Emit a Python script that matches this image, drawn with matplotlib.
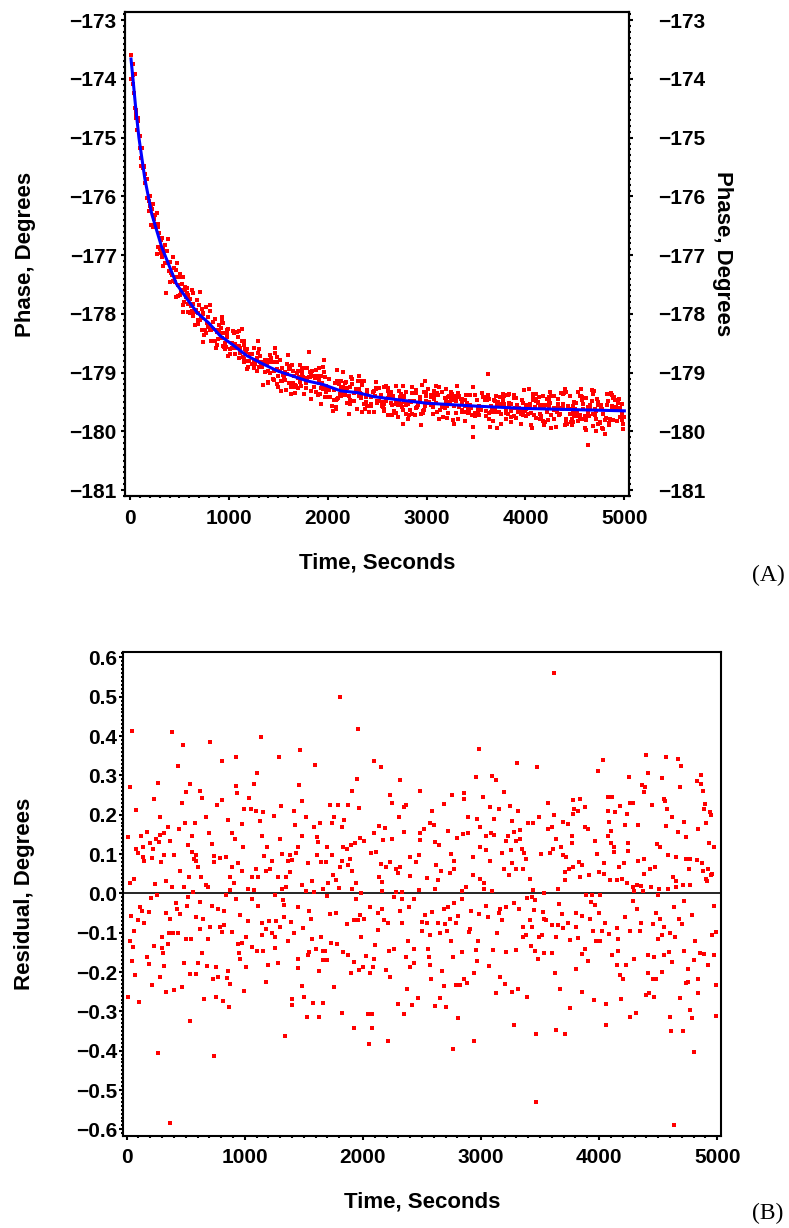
import numpy as np
import matplotlib
matplotlib.use("Agg")
import matplotlib.pyplot as plt
from matplotlib.ticker import MultipleLocator

plt.rcParams["font.family"] = ["Liberation Sans", "DejaVu Sans"]
plt.rcParams["font.weight"] = "bold"
plt.rcParams["axes.labelweight"] = "bold"

# ---------------- DATA ----------------

# fitted decay curve (blue line)
fit_time = [10, 30, 55, 90, 150, 220, 320, 470, 570, 680, 800, 910, 1050, 1180,
            1330, 1490, 1650, 1790, 1950, 2130, 2300, 2470, 2750, 3000, 3500,
            4000, 4500, 5000]
fit_phase = [-173.66, -174.0, -174.45, -175.0, -175.7, -176.3, -176.86, -177.49,
             -177.73, -177.98, -178.16, -178.37, -178.54, -178.71, -178.84,
             -178.97, -179.06, -179.14, -179.2, -179.31, -179.34, -179.41,
             -179.47, -179.52, -179.57, -179.61, -179.63, -179.65]

# residuals (time s, residual deg)
resid_early = [
    (48, 0.414), (387, 0.411), (705, 0.386), (1137, 0.398), (480, 0.377), (810, 0.337),
    (928, 0.347), (1292, 0.347), (1470, 0.365), (437, 0.324), (1597, 0.326), (1100, 0.307),
    (31, 0.271), (268, 0.281), (539, 0.278), (928, 0.274), (1081, 0.278), (1462, 0.276),
    (505, 0.258), (624, 0.26), (937, 0.256), (638, 0.243), (1038, 0.243), (231, 0.241),
    (468, 0.231), (1484, 0.235), (768, 0.225), (810, 0.237), (993, 0.214), (1053, 0.214),
    (1095, 0.21), (1151, 0.206), (82, 0.212), (1304, 0.221), (1417, 0.209), (285, 0.195),
    (674, 0.195), (1250, 0.197), (1518, 0.195), (858, 0.186), (1129, 0.185), (979, 0.177),
    (497, 0.179), (576, 0.179), (1425, 0.175), (1589, 0.169), (1637, 0.18), (353, 0.169),
    (446, 0.164), (895, 0.154), (700, 0.154), (1148, 0.147), (1487, 0.147), (1611, 0.144),
    (14, 0.144), (118, 0.147), (169, 0.157), (248, 0.138), (285, 0.148), (319, 0.154),
    (556, 0.147), (917, 0.138), (1298, 0.139), (370, 0.133), (200, 0.129), (274, 0.13),
    (725, 0.126), (1620, 0.131), (522, 0.124), (985, 0.117), (1185, 0.119), (1453, 0.119),
    (79, 0.112), (141, 0.118), (96, 0.103), (226, 0.113), (553, 0.104), (316, 0.097),
    (404, 0.097), (590, 0.097), (742, 0.095), (841, 0.093), (1165, 0.095), (1383, 0.098),
    (1436, 0.102), (1611, 0.098), (1312, 0.1), (141, 0.093), (217, 0.091), (573, 0.087),
    (793, 0.091), (150, 0.081), (291, 0.08), (590, 0.082), (742, 0.08), (940, 0.078),
    (1233, 0.081), (1369, 0.083), (1400, 0.084), (1648, 0.079), (1535, 0.078), (607, 0.067),
    (895, 0.067), (1098, 0.063), (1213, 0.063), (454, 0.057), (979, 0.057), (1177, 0.057),
    (1383, 0.054), (531, 0.042), (632, 0.042), (878, 0.042), (1061, 0.042), (1115, 0.042),
    (1281, 0.042), (1349, 0.042), (62, 0.037), (336, 0.032), (1572, 0.032), (911, 0.026),
    (28, 0.027), (240, 0.023), (485, 0.017), (387, 0.017), (672, 0.021), (691, 0.016),
    (1482, 0.022), (1352, 0.017), (1315, 0.012), (1027, 0.012), (1081, 0.008), (878, 0.009),
    (1518, 0.007), (1589, 0.003), (1659, 0.01), (562, 0.003),
    (254, -0.004), (203, -0.011), (522, -0.008), (844, -0.005), (928, -0.014), (1064, -0.014),
    (1256, -0.005), (1326, -0.016), (621, -0.021), (418, -0.025), (116, -0.034), (513, -0.031),
    (720, -0.031), (1115, -0.032), (1335, -0.03), (1453, -0.034), (423, -0.04), (776, -0.039),
    (189, -0.047), (130, -0.045), (824, -0.045), (336, -0.049), (451, -0.053), (962, -0.055),
    (1546, -0.044), (370, -0.064), (587, -0.059), (649, -0.064), (1030, -0.07), (1143, -0.075),
    (1202, -0.07), (1264, -0.07), (1332, -0.059), (1557, -0.064), (99, -0.068), (150, -0.075),
    (40, -0.057), (62, -0.096), (821, -0.08), (787, -0.085), (706, -0.085), (624, -0.09),
    (1301, -0.086), (1180, -0.09), (1394, -0.073), (435, -0.1), (361, -0.1), (395, -0.101),
    (807, -0.097), (889, -0.098), (1233, -0.1), (1148, -0.105), (1420, -0.1), (1496, -0.087),
    (299, -0.11), (502, -0.115), (547, -0.115), (689, -0.115), (1010, -0.11), (1258, -0.11),
    (1648, -0.11), (1569, -0.115), (28, -0.12), (973, -0.125), (945, -0.129), (1366, -0.12),
    (353, -0.13), (234, -0.135), (302, -0.138), (1061, -0.136), (1100, -0.147), (1256, -0.14),
    (1603, -0.141), (1541, -0.148), (56, -0.136), (310, -0.151), (638, -0.151), (950, -0.151),
    (1154, -0.147), (1450, -0.166), (169, -0.161), (1532, -0.156), (1665, -0.147), (48, -0.172),
    (192, -0.18), (319, -0.184), (485, -0.176), (604, -0.176), (683, -0.184), (756, -0.186),
    (962, -0.166), (1010, -0.186), (1196, -0.181), (1281, -0.176), (1665, -0.169), (858, -0.197),
    (1453, -0.189), (68, -0.208), (536, -0.205), (584, -0.204), (773, -0.212), (847, -0.214),
    (282, -0.213), (728, -0.217), (1631, -0.197), (1182, -0.225), (214, -0.232), (875, -0.23),
    (468, -0.238), (404, -0.246), (336, -0.25), (993, -0.247), (1484, -0.235), (14, -0.264),
    (107, -0.275), (655, -0.269), (753, -0.264), (818, -0.273), (869, -0.289), (1400, -0.268),
    (1397, -0.283), (1501, -0.264), (1577, -0.278), (1665, -0.278), (1527, -0.314),
    (1625, -0.314), (536, -0.324), (1343, -0.363), (268, -0.406), (742, -0.413), (367, -0.584),
]

resid_middle = [
    (1806, 0.5), (1962, 0.418), (2983, 0.367), (2094, 0.337), (2153, 0.322), (3308, 0.332),
    (1950, 0.292), (2317, 0.289), (2955, 0.297), (3096, 0.298), (3130, 0.289), (1911, 0.261),
    (2232, 0.249), (2486, 0.26), (2757, 0.249), (2856, 0.255), (2856, 0.24), (3017, 0.245),
    (3198, 0.258), (1722, 0.225), (1792, 0.225), (1877, 0.225), (1964, 0.218), (2249, 0.23),
    (2365, 0.225), (2348, 0.219), (2690, 0.228), (3079, 0.22), (3152, 0.214), (3248, 0.223),
    (3313, 0.209), (2585, 0.21), (2303, 0.195), (1753, 0.195), (2893, 0.195), (2969, 0.19),
    (3110, 0.19), (1840, 0.186), (1741, 0.178), (1820, 0.169), (2568, 0.18), (2605, 0.174),
    (3260, 0.183), (2139, 0.172), (2187, 0.166), (2520, 0.164), (2723, 0.159), (2991, 0.169),
    (3330, 0.16), (2097, 0.153), (2351, 0.155), (2484, 0.153), (2893, 0.153), (2850, 0.15),
    (3045, 0.147), (3082, 0.153), (3113, 0.148), (3282, 0.155), (3231, 0.145), (1976, 0.14),
    (2009, 0.134), (2173, 0.136), (2249, 0.138), (2486, 0.136), (2794, 0.142), (3330, 0.139),
    (3212, 0.133), (3296, 0.132), (2611, 0.13), (2644, 0.123), (1930, 0.129), (1899, 0.124),
    (1835, 0.119), (1863, 0.114), (1699, 0.119), (2989, 0.119), (3045, 0.11), (3251, 0.11),
    (3347, 0.114), (2069, 0.102), (2111, 0.104), (2743, 0.099), (2472, 0.098), (3181, 0.103),
    (3361, 0.102), (1741, 0.098), (2402, 0.093), (2935, 0.093), (1891, 0.087), (1685, 0.079),
    (1820, 0.081), (2227, 0.079), (2453, 0.079), (2771, 0.081), (3260, 0.078), (3076, 0.082),
    (2153, 0.075), (2193, 0.067), (1806, 0.068), (1874, 0.072), (2314, 0.068), (2283, 0.062),
    (2622, 0.071), (2774, 0.062), (3198, 0.063), (3293, 0.062), (3353, 0.062), (1908, 0.058),
    (2295, 0.053), (2402, 0.045), (2661, 0.057), (2735, 0.053), (2932, 0.047), (3237, 0.046),
    (1750, 0.047), (2134, 0.042), (2540, 0.038), (2639, 0.033), (2991, 0.036), (3028, 0.026),
    (1772, 0.034), (1708, 0.026), (1942, 0.027), (2159, 0.03), (2873, 0.016), (1911, 0.012),
    (1795, 0.014), (2162, 0.007), (2283, 0.003), (2328, 0.003), (2611, 0.012), (2836, 0.007),
    (3025, 0.012), (3096, 0.007), (2478, 0.008), (1987, 0.002),
    (1699, -0.007), (1942, -0.014), (2266, -0.008), (2334, -0.014), (2436, -0.014),
    (2839, -0.014), (2774, -0.024), (3042, -0.032), (3277, -0.024), (2060, -0.034),
    (2159, -0.039), (2388, -0.034), (2687, -0.039), (2723, -0.034), (2913, -0.044),
    (3164, -0.039), (3209, -0.035), (3325, -0.039), (1719, -0.052), (1775, -0.05),
    (1976, -0.054), (2012, -0.064), (2128, -0.049), (2314, -0.044), (2523, -0.054),
    (2588, -0.047), (2738, -0.064), (2808, -0.058), (2981, -0.052), (3060, -0.06),
    (3152, -0.049), (1928, -0.069), (1956, -0.069), (2179, -0.069), (2213, -0.075),
    (2334, -0.075), (2498, -0.073), (2546, -0.075), (2636, -0.075), (2692, -0.078),
    (2788, -0.075), (3181, -0.069), (1863, -0.078), (3358, -0.085), (2907, -0.091),
    (2500, -0.096), (2653, -0.101), (2715, -0.096), (2895, -0.098), (3133, -0.101),
    (2131, -0.093), (2571, -0.107), (1987, -0.11), (3356, -0.112), (1730, -0.125),
    (1778, -0.129), (2105, -0.131), (2385, -0.121), (2749, -0.121), (2978, -0.121),
    (2433, -0.141), (2551, -0.142), (1829, -0.15), (2221, -0.147), (2266, -0.141),
    (2960, -0.143), (3104, -0.144), (3214, -0.148), (3296, -0.145), (1682, -0.147),
    (1877, -0.157), (2026, -0.16), (2097, -0.167), (2362, -0.161), (2560, -0.162),
    (2760, -0.161), (2836, -0.148), (1696, -0.17), (1925, -0.175), (2436, -0.176),
    (2571, -0.182), (2963, -0.171), (3065, -0.184), (1998, -0.186), (2083, -0.187),
    (2399, -0.186), (1970, -0.196), (2060, -0.202), (1902, -0.202), (2198, -0.195),
    (2673, -0.197), (2941, -0.202), (2230, -0.212), (3161, -0.212), (2574, -0.217),
    (2856, -0.217), (2788, -0.232), (2822, -0.232), (2881, -0.227), (2690, -0.235),
    (1756, -0.238), (3206, -0.231), (3313, -0.243), (2376, -0.243), (3124, -0.253),
    (3265, -0.252), (2469, -0.265), (2650, -0.267), (1826, -0.303), (2300, -0.282),
    (2419, -0.283), (2611, -0.286), (2707, -0.289), (2046, -0.306), (2080, -0.308),
    (2351, -0.308), (2808, -0.316), (3282, -0.334), (1928, -0.343), (2080, -0.342),
    (2055, -0.384), (2216, -0.375), (2944, -0.375), (2766, -0.397),
]

resid_late = [
    (3618, 0.56), (4397, 0.353), (4566, 0.347), (4668, 0.342), (4035, 0.34), (4696, 0.325),
    (3474, 0.321), (3990, 0.312), (4414, 0.305), (4253, 0.296), (4532, 0.294), (4862, 0.301),
    (4828, 0.286), (4860, 0.278), (4363, 0.275), (4388, 0.271), (4687, 0.271), (4879, 0.261),
    (4380, 0.258), (4106, 0.246), (4072, 0.244), (3838, 0.241), (3776, 0.237), (4549, 0.24),
    (4560, 0.235), (3564, 0.229), (4258, 0.23), (4287, 0.229), (4177, 0.223), (4448, 0.225),
    (4896, 0.228), (3790, 0.215), (3824, 0.21), (3880, 0.22), (4075, 0.21), (4137, 0.206),
    (4575, 0.214), (4888, 0.214), (4941, 0.207), (3781, 0.203), (3618, 0.2), (3494, 0.195),
    (4617, 0.195), (4950, 0.198), (4239, 0.203), (3401, 0.18), (3437, 0.178), (3697, 0.181),
    (3739, 0.177), (4081, 0.181), (4222, 0.175), (4329, 0.175), (4569, 0.172), (4721, 0.182),
    (4905, 0.18), (3567, 0.164), (3601, 0.169), (3880, 0.169), (3903, 0.164), (4097, 0.158),
    (4671, 0.156), (4837, 0.164), (3773, 0.147), (4078, 0.147), (4738, 0.143), (3635, 0.139),
    (3965, 0.134), (4103, 0.127), (4129, 0.118), (4242, 0.129), (3773, 0.129), (4487, 0.125),
    (4515, 0.119), (4933, 0.127), (4972, 0.117), (3612, 0.112), (3680, 0.119), (4129, 0.106),
    (4247, 0.108), (3508, 0.1), (3587, 0.103), (3691, 0.098), (3719, 0.093), (3979, 0.099),
    (4583, 0.098), (4651, 0.093), (3384, 0.088), (4332, 0.083), (4383, 0.087), (4736, 0.087),
    (4766, 0.087), (4826, 0.086), (4874, 0.078), (3830, 0.08), (4210, 0.076), (4044, 0.078),
    (3781, 0.067), (3858, 0.071), (4171, 0.067), (4476, 0.066), (3748, 0.062), (4433, 0.061),
    (4761, 0.062), (4879, 0.058), (4919, 0.063), (4958, 0.05), (4947, 0.047), (3708, 0.055),
    (3838, 0.042), (3911, 0.047), (4002, 0.054), (4041, 0.048), (4191, 0.036), (4380, 0.048),
    (4628, 0.042), (4654, 0.031), (3412, 0.036), (3714, 0.034), (4092, 0.033), (4148, 0.035),
    (4233, 0.027), (4321, 0.02), (4354, 0.019), (4439, 0.017), (4504, 0.012), (4586, 0.012),
    (4654, 0.017), (4707, 0.02), (4772, 0.022), (4902, 0.036), (4916, 0.032), (3655, 0.012),
    (3443, 0.008), (4284, 0.015), (4295, 0.007), (4369, 0.007), (3533, 0.001),
    (3889, -0.004), (3937, -0.004), (4010, -0.003), (4495, -0.003), (3432, -0.008),
    (3454, -0.017), (3386, -0.012), (3928, -0.023), (3965, -0.029), (3657, -0.026),
    (4718, -0.019), (4290, -0.019), (4631, -0.034), (4972, -0.031), (3451, -0.043),
    (3522, -0.048), (3688, -0.052), (3801, -0.049), (3855, -0.058), (3999, -0.05),
    (4216, -0.059), (4321, -0.039), (4481, -0.049), (4786, -0.055), (3536, -0.064),
    (3553, -0.069), (3655, -0.081), (3601, -0.081), (3736, -0.075), (3920, -0.064),
    (3418, -0.069), (4518, -0.064), (4679, -0.064), (3432, -0.085), (3807, -0.086),
    (3691, -0.087), (4053, -0.075), (4151, -0.087), (4354, -0.075), (4453, -0.078),
    (4549, -0.085), (4704, -0.078), (3951, -0.096), (4021, -0.096), (4258, -0.096),
    (4343, -0.096), (3381, -0.107), (3519, -0.106), (3494, -0.11), (3635, -0.11),
    (3753, -0.118), (3824, -0.113), (3976, -0.12), (4007, -0.121), (4086, -0.104),
    (4160, -0.116), (4495, -0.116), (4535, -0.107), (4600, -0.101), (4645, -0.11),
    (4955, -0.105), (4992, -0.098), (3420, -0.133), (3883, -0.142), (4160, -0.147),
    (4814, -0.122), (3460, -0.147), (3485, -0.166), (3530, -0.151), (3604, -0.152),
    (3852, -0.153), (4109, -0.156), (4414, -0.158), (4467, -0.162), (4552, -0.157),
    (4589, -0.149), (4716, -0.147), (4857, -0.152), (4890, -0.153), (4972, -0.156),
    (3909, -0.172), (4292, -0.167), (4617, -0.175), (4803, -0.169), (4148, -0.181),
    (4230, -0.181), (4922, -0.181), (3801, -0.192), (4755, -0.192), (4411, -0.203),
    (4529, -0.2), (3626, -0.203), (4179, -0.208), (4202, -0.218), (4459, -0.217),
    (4481, -0.217), (4840, -0.217), (4733, -0.227), (4755, -0.225), (4989, -0.232),
    (3669, -0.243), (3855, -0.25), (4840, -0.254), (3392, -0.263), (3956, -0.271),
    (4058, -0.281), (4185, -0.268), (4397, -0.258), (4419, -0.253), (4467, -0.264),
    (4687, -0.265), (3753, -0.291), (4312, -0.303), (4261, -0.314), (4600, -0.314),
    (4772, -0.297), (4789, -0.317), (4986, -0.312), (4061, -0.334), (3638, -0.348),
    (3714, -0.358), (3465, -0.358), (4611, -0.349), (4713, -0.35), (4806, -0.403),
    (3465, -0.531), (4634, -0.589),
]

time_ticks = [0, 1000, 2000, 3000, 4000, 5000]
phase_ticks = [-173, -174, -175, -176, -177, -178, -179, -180, -181]
phase_labels = ["\u2212173", "\u2212174", "\u2212175", "\u2212176", "\u2212177",
                "\u2212178", "\u2212179", "\u2212180", "\u2212181"]
resid_ticks = [0.6, 0.5, 0.4, 0.3, 0.2, 0.1, 0.0, -0.1, -0.2, -0.3, -0.4, -0.5, -0.6]
resid_labels = ["0.6", "0.5", "0.4", "0.3", "0.2", "0.1", "0.0", "\u22120.1", "\u22120.2",
                "\u22120.3", "\u22120.4", "\u22120.5", "\u22120.6"]

# residual = measured - fit, so the measured phase is fit + residual
resid = np.array(resid_early + resid_middle + resid_late)
t_obs, r_obs = resid[:, 0], resid[:, 1]
phase_obs = np.interp(t_obs, fit_time, fit_phase) + r_obs

RED = "#ff0000"
BLUE = "#0000ff"


def style_axes(ax):
    for sp in ax.spines.values():
        sp.set_linewidth(1.5)
    ax.tick_params(which="both", direction="out", width=1.5, labelsize=15)
    ax.tick_params(which="major", length=3)
    ax.tick_params(which="minor", length=1.5)


fig = plt.figure(figsize=(7.89, 12.28), dpi=100)

# ---------------- PANEL A ----------------
ax1 = fig.add_axes([0.1584, 0.5961, 0.6388, 0.3941])
ax1.scatter(t_obs, phase_obs, s=7, marker="s", color=RED, linewidths=0, zorder=2)
ax1.plot(fit_time, fit_phase, color=BLUE, lw=2.2, zorder=3)
ax1.set_xlim(-51, 5047)
ax1.set_ylim(-181.10, -172.86)
ax1.set_xticks(time_ticks, [str(v) for v in time_ticks])
ax1.xaxis.set_minor_locator(MultipleLocator(100))
ax1.set_yticks(phase_ticks, phase_labels)
ax1.yaxis.set_minor_locator(MultipleLocator(0.1))
style_axes(ax1)
ax1.tick_params(top=False, right=False)
ax1.tick_params(axis="y", pad=3)
ax1.tick_params(axis="x", pad=6.5)

ax2 = ax1.twinx()
ax2.set_ylim(ax1.get_ylim())
ax2.set_yticks(phase_ticks, phase_labels)
ax2.yaxis.set_minor_locator(MultipleLocator(0.1))
style_axes(ax2)
ax2.tick_params(axis="y", pad=52)
for lbl in ax2.get_yticklabels():
    lbl.set_horizontalalignment("right")

ax1.set_ylabel("Phase, Degrees", fontsize=16, va="center")
ax1.yaxis.set_label_coords(-0.198, 0.5)
ax2.set_ylabel("Phase, Degrees", fontsize=16, rotation=270, va="center")
ax2.yaxis.set_label_coords(1.185, 0.5)
ax1.set_xlabel("Time, Seconds", fontsize=16, va="center")
ax1.xaxis.set_label_coords(0.5, -0.138)

fig.text(768 / 789, 1 - 575 / 1228, "(A)", family="Liberation Serif",
         weight="normal", fontsize=17, ha="center", va="center")

# ---------------- PANEL B ----------------
ax3 = fig.add_axes([0.1559, 0.0749, 0.7579, 0.3941])
ax3.axhline(0, color="black", lw=1.2, zorder=1)
ax3.scatter(t_obs, r_obs, s=7, marker="s", color=RED, linewidths=0, zorder=2)
ax3.set_xlim(-31, 5032)
ax3.set_ylim(-0.617, 0.6135)
ax3.set_xticks(time_ticks, [str(v) for v in time_ticks])
ax3.xaxis.set_minor_locator(MultipleLocator(100))
ax3.set_yticks(resid_ticks, resid_labels)
ax3.yaxis.set_minor_locator(MultipleLocator(0.01))
style_axes(ax3)
ax3.tick_params(top=False, right=False)
ax3.tick_params(axis="y", pad=1)
ax3.tick_params(axis="x", pad=5.5)

ax3.set_ylabel("Residual, Degrees", fontsize=16, va="center")
ax3.yaxis.set_label_coords(-0.164, 0.5)
ax3.set_xlabel("Time, Seconds", fontsize=16, va="center")
ax3.xaxis.set_label_coords(0.5, -0.136)

fig.text(768 / 789, 1 - 1213 / 1228, "(B)", family="Liberation Serif",
         weight="normal", fontsize=17, ha="center", va="center")

fig.savefig("out.png", dpi=100)
plt.close(fig)
